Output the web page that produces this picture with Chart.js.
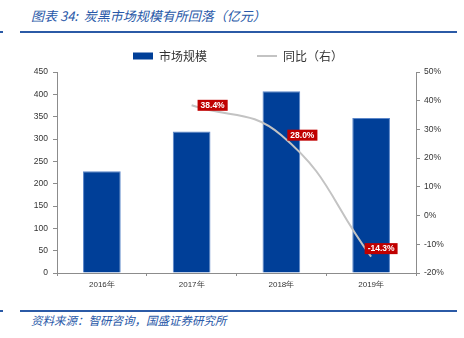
<!DOCTYPE html>
<html>
<head>
<meta charset="utf-8">
<script src="https://cdn.jsdelivr.net/npm/chart.js@4"></script>
<style>
  html, body { margin: 0; padding: 0; background: #fff; }
  body { width: 464px; height: 338px; position: relative; overflow: hidden;
         font-family: "Noto Sans CJK SC", "Liberation Sans", sans-serif; }
  .title { position: absolute; left: 31px; top: 6px; font-size: 13px; font-style: italic;
           color: #2858a8; white-space: nowrap; }
  .rule { position: absolute; height: 2px; background: #2b5aa6; }
  .source { position: absolute; left: 31px; top: 312px; font-size: 11.5px; font-style: italic;
            color: #2858a8; white-space: nowrap; }
  #wrap { position: absolute; left: 0; top: 38px; width: 464px; height: 264px; }
</style>
</head>
<body>
<div class="title">图表 34:&nbsp; 炭黑市场规模有所回落（亿元）</div>
<div class="rule" style="left:0;top:31px;width:3px;"></div>
<div class="rule" style="left:20px;top:31px;width:437px;"></div>
<div id="wrap"><canvas id="chart"></canvas></div>
<div class="rule" style="left:0;top:310px;width:3px;"></div>
<div class="rule" style="left:20px;top:310px;width:437px;"></div>
<div class="source">资料来源：智研咨询，国盛证券研究所</div>
<script>
const years = ['2016年', '2017年', '2018年', '2019年'];
const marketSize = [228, 317, 407, 347];
const yoy = [null, 38.4, 28.0, -14.3];
const yoyLabels = [null, '38.4%', '28.0%', '-14.3%'];

const barColor = '#003f98';
const lineColor = '#c3c3c3';
const axisColor = '#8c8c8c';
const tickFont = { family: 'Liberation Sans', size: 8.5 };
const legendGap = 50;

// fixed legend band so the plot area lands where the original has it;
// the wide item gap also pushes items down, so shift the box while drawing
const legendHeight = {
  id: 'legendHeight',
  beforeInit(chart) {
    const legend = chart.legend;
    const fit = legend.fit;
    legend.fit = function() {
      fit.call(this);
      this.height = 34;
    };
    const draw = legend.draw;
    legend.draw = function() {
      const { top, left, right } = this;
      this.top = top + 12 - legendGap;
      this.left = left + 6;
      this.right = right + 6;
      draw.call(this);
      this.top = top;
      this.left = left;
      this.right = right;
    };
  }
};

// red value boxes next to the line points
const yoyBoxes = {
  id: 'yoyBoxes',
  afterDatasetsDraw(chart) {
    const { ctx } = chart;
    const meta = chart.getDatasetMeta(1);
    const offsets = [null, [21, 0], [21, 0], [10, -8]];
    ctx.save();
    ctx.font = 'bold 8.5px "Liberation Sans"';
    ctx.textAlign = 'center';
    ctx.textBaseline = 'middle';
    meta.data.forEach((pt, i) => {
      if (yoy[i] === null) return;
      const cx = pt.x + offsets[i][0];
      const cy = pt.y + offsets[i][1];
      const w = ctx.measureText(yoyLabels[i]).width + 6;
      ctx.fillStyle = '#c00000';
      ctx.fillRect(cx - w / 2, cy - 5.5, w, 11);
      ctx.fillStyle = '#fff';
      ctx.fillText(yoyLabels[i], cx, cy + 0.5);
    });
    ctx.restore();
  }
};

new Chart(document.getElementById('chart'), {
  data: {
    labels: years,
    datasets: [{
      type: 'bar',
      label: '市场规模',
      data: marketSize,
      backgroundColor: barColor,
      borderColor: '#5b86c9',
      borderWidth: 1,
      barPercentage: 0.42,
      categoryPercentage: 1,
      yAxisID: 'y',
      order: 2
    }, {
      type: 'line',
      label: '同比（右）',
      data: yoy,
      borderColor: lineColor,
      backgroundColor: lineColor,
      borderWidth: 2,
      pointRadius: 0,
      tension: 0.45,
      yAxisID: 'y1',
      order: 1
    }]
  },
  options: {
    responsive: true,
    maintainAspectRatio: false,
    animation: false,
    layout: { padding: 0 },
    plugins: {
      tooltip: { enabled: false },
      legend: {
        position: 'top',
        labels: {
          usePointStyle: true,
          pointStyleWidth: 20,
          boxHeight: 7,
          padding: legendGap,
          color: '#333',
          font: { family: '"Noto Sans CJK SC"', size: 12 },
          generateLabels(chart) {
            const items = Chart.defaults.plugins.legend.labels.generateLabels(chart);
            items.sort((a, b) => a.datasetIndex - b.datasetIndex);
            items.forEach(it => {
              const isBar = it.datasetIndex === 0;
              it.pointStyle = isBar ? 'rect' : 'line';
              it.lineWidth = isBar ? 0 : 2;
              it.fillStyle = isBar ? barColor : lineColor;
              it.strokeStyle = isBar ? barColor : lineColor;
            });
            return items;
          }
        }
      }
    },
    scales: {
      x: {
        offset: true,
        grid: { display: true, offset: true, drawOnChartArea: false, tickLength: 3, color: axisColor },
        border: { color: axisColor },
        ticks: { color: '#333', font: { family: 'Liberation Sans', size: 8 }, padding: 4 },
        afterFit(scale) { scale.height = 29; }
      },
      y: {
        position: 'left',
        min: 0, max: 450,
        ticks: { stepSize: 50, color: '#333', font: tickFont, padding: 5 },
        grid: { drawOnChartArea: false, tickLength: 4, color: axisColor },
        border: { color: axisColor },
        afterFit(scale) { scale.width = 57; }
      },
      y1: {
        position: 'right',
        min: -20, max: 50,
        ticks: { stepSize: 10, color: '#333', font: tickFont, padding: 4,
                 callback: v => v + '%' },
        grid: { drawOnChartArea: false, tickLength: 4, color: axisColor },
        border: { color: axisColor },
        afterFit(scale) { scale.width = 48; }
      }
    }
  },
  plugins: [legendHeight, yoyBoxes]
});
</script>
</body>
</html>
